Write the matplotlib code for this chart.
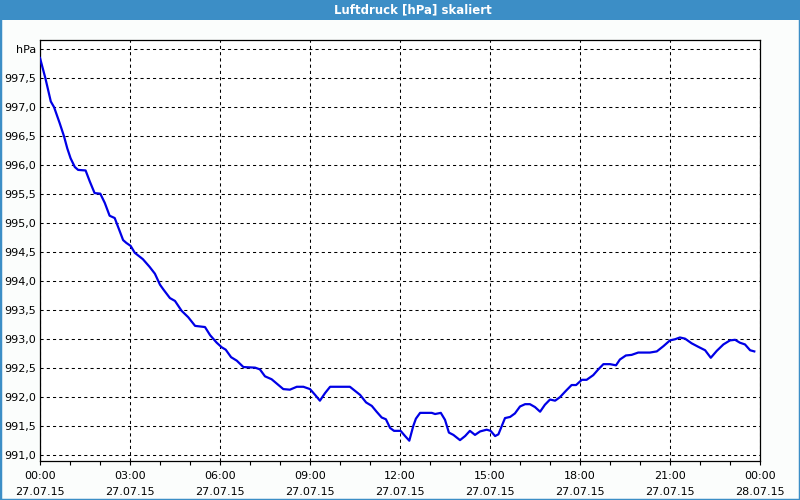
import matplotlib
matplotlib.use("Agg")
import matplotlib.pyplot as plt
from matplotlib.patches import Rectangle

# Luftdruck 27.07.15, hours since midnight -> hPa
hours = [0.0, 0.18, 0.36, 0.47, 0.66, 0.8, 0.91, 1.02, 1.16, 1.27, 1.52, 1.66, 1.82,
         2.01, 2.16, 2.32, 2.49, 2.6, 2.77, 2.88, 3.02, 3.16, 3.43, 3.65, 3.83, 4.0,
         4.11, 4.33, 4.5, 4.72, 4.94, 5.17, 5.5, 5.67, 5.89, 6.06, 6.19, 6.37, 6.56,
         6.78, 7.17, 7.33, 7.5, 7.72, 8.11, 8.33, 8.56, 8.78, 9.0, 9.17, 9.33, 9.5,
         9.67, 10.33, 10.5, 10.67, 10.87, 11.06, 11.22, 11.39, 11.53, 11.67, 11.8,
         12.02, 12.17, 12.31, 12.44, 12.53, 12.67, 13.06, 13.17, 13.36, 13.5, 13.63,
         13.78, 14.0, 14.17, 14.33, 14.5, 14.67, 14.89, 15.02, 15.17, 15.28, 15.5,
         15.67, 15.83, 16.0, 16.17, 16.33, 16.5, 16.67, 16.83, 17.0, 17.17, 17.33,
         17.53, 17.72, 17.87, 18.06, 18.22, 18.44, 18.61, 18.78, 19.0, 19.2, 19.33,
         19.53, 19.72, 19.94, 20.33, 20.56, 20.78, 21.0, 21.17, 21.33, 21.5, 21.72,
         21.94, 22.17, 22.36, 22.56, 22.78, 23.0, 23.17, 23.33, 23.5, 23.67, 23.81]
hpa = [997.85, 997.5, 997.10, 997.0, 996.72, 996.5, 996.29, 996.12, 995.97, 995.92,
       995.91, 995.72, 995.52, 995.51, 995.35, 995.13, 995.09, 994.94, 994.71, 994.66,
       994.61, 994.49, 994.38, 994.25, 994.13, 993.94, 993.86, 993.71, 993.66, 993.49,
       993.38, 993.23, 993.21, 993.07, 992.94, 992.86, 992.82, 992.69, 992.63, 992.52,
       992.51, 992.48, 992.36, 992.31, 992.14, 992.13, 992.18, 992.18, 992.14, 992.04,
       991.94, 992.07, 992.18, 992.18, 992.11, 992.04, 991.91, 991.85, 991.75, 991.65,
       991.62, 991.47, 991.42, 991.42, 991.33, 991.25, 991.50, 991.63, 991.73, 991.73,
       991.71, 991.73, 991.61, 991.39, 991.35, 991.26, 991.33, 991.42, 991.35, 991.41,
       991.44, 991.42, 991.33, 991.36, 991.64, 991.66, 991.72, 991.84, 991.88, 991.88,
       991.83, 991.75, 991.87, 991.96, 991.94, 992.0, 992.11, 992.21, 992.21, 992.30,
       992.30, 992.38, 992.48, 992.57, 992.57, 992.55, 992.65, 992.72, 992.73, 992.77,
       992.77, 992.79, 992.88, 992.98, 993.0, 993.03, 993.01, 992.93, 992.87, 992.81,
       992.68, 992.80, 992.91, 992.98, 992.99, 992.94, 992.91, 992.81, 992.79]

x_ticks = [0, 3, 6, 9, 12, 15, 18, 21, 24]
x_labels = ["00:00\n27.07.15", "03:00\n27.07.15", "06:00\n27.07.15", "09:00\n27.07.15",
            "12:00\n27.07.15", "15:00\n27.07.15", "18:00\n27.07.15", "21:00\n27.07.15",
            "00:00\n28.07.15"]
y_ticks = [991.0, 991.5, 992.0, 992.5, 993.0, 993.5, 994.0, 994.5, 995.0, 995.5,
           996.0, 996.5, 997.0, 997.5, 998.0]
y_labels = ["991,0", "991,5", "992,0", "992,5", "993,0", "993,5", "994,0", "994,5",
            "995,0", "995,5", "996,0", "996,5", "997,0", "997,5", "hPa"]

bar_blue = "#3C8EC6"

fig = plt.figure(figsize=(8, 5), dpi=100, facecolor="#FBFDFC")
ax = fig.add_axes([0.05, 0.078, 0.9, 0.842])
ax.set_facecolor("white")

ax.plot(hours, hpa, color="#0000E6", linewidth=1.6, zorder=3)

ax.set_xlim(0, 24)
ax.set_ylim(990.9, 998.16)

ax.set_xticks(x_ticks)
ax.set_xticklabels(x_labels, fontsize=8, linespacing=1.75)
ax.set_xticks(range(25), minor=True)
ax.set_yticks(y_ticks)
ax.set_yticklabels(y_labels, fontsize=8)

ax.tick_params(axis="x", which="both", direction="out", length=3, width=0.8, pad=4)
ax.tick_params(axis="y", length=0, pad=3)

ax.grid(True, which="major", color="black", linestyle=(0, (3, 3)), linewidth=0.75)
for s in ax.spines.values():
    s.set_color("black")
    s.set_linewidth(0.9)

# title bar + outer frame
fig.patches.append(Rectangle((0, 0.96), 1, 0.04, transform=fig.transFigure,
                             facecolor=bar_blue, edgecolor="none", zorder=0))
fig.patches.append(Rectangle((0, 0), 1, 1, transform=fig.transFigure,
                             facecolor="none", edgecolor=bar_blue, linewidth=2.5))
fig.text(0.516, 0.98, "Luftdruck [hPa] skaliert", color="white", fontsize=8.5,
         fontweight="bold", ha="center", va="center")

fig.savefig("out.png", dpi=100, facecolor=fig.get_facecolor())
